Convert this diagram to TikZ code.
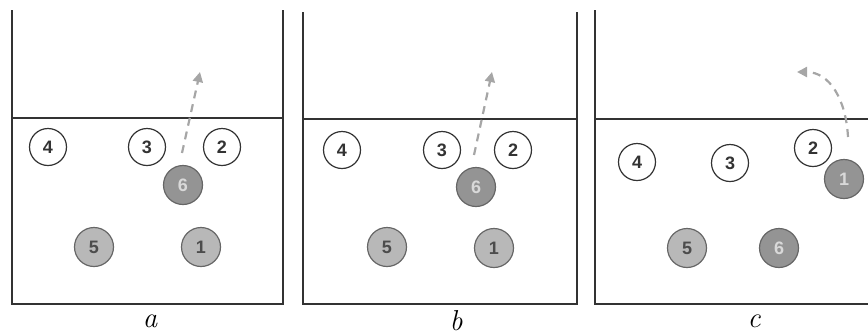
\documentclass[tikz,border=0pt]{standalone}
\usepackage{fontspec}
\setsansfont{Liberation Sans}
\usetikzlibrary{arrows.meta}
\begin{document}
\begin{tikzpicture}[x=0.5pt, y=-0.5pt,
  every node/.style={font=\sffamily\bfseries\small},
  court/.style={draw=black!80, line width=0.7pt},
  open/.style={circle, draw=black!80, line width=0.6pt, fill=white, text=black!80, minimum size=18.5pt, inner sep=0pt},
  back/.style={circle, draw=black!60, line width=0.6pt, fill=black!28, text=black!70, minimum size=19.5pt, inner sep=0pt},
  hitter/.style={back, fill=black!42, text=white!85!black},
  move/.style={draw=black!35, line width=1.1pt, dash pattern=on 4pt off 3pt, -{Triangle[length=5pt,width=5pt]}},
  caption/.style={font=\rmfamily\itshape\Large}]
  \useasboundingbox (0,0) rectangle (868,334);
  % courts
  \draw[court] (12,10) -- (12,304) -- (283,304) -- (283,10);
  \draw[court] (12,118) -- (283,118);
  \draw[court] (303,12) -- (303,304) -- (577,304) -- (577,12);
  \draw[court] (303,119) -- (577,119);
  \draw[court] (595,10) -- (595,304) -- (872,304) -- (872,10);
  \draw[court] (595,119) -- (872,119);
  % a
  \node[open] (a4) at (48,147) {4};
  \node[open] (a3) at (147,147) {3};
  \node[open] (a2) at (222,147) {2};
  \node[hitter] (a6) at (183,185) {6};
  \node[back] (a5) at (94,247) {5};
  \node[back] (a1) at (201,247) {1};
  \coordinate (a6from) at (182,153);
  \coordinate (a6to) at (200,72);
  \draw[move] (a6from) -- (a6to);
  \node[caption] (capa) at (150,321) {a};
  % b
  \node[open] (b4) at (342,150) {4};
  \node[open] (b3) at (442,150) {3};
  \node[open] (b2) at (513,150) {2};
  \node[hitter] (b6) at (476,187) {6};
  \node[back] (b5) at (387,247) {5};
  \node[back] (b1) at (494,248) {1};
  \coordinate (b6from) at (474,155);
  \coordinate (b6to) at (492,72);
  \draw[move] (b6from) -- (b6to);
  \node[caption] (capb) at (456,321) {b};
  % c
  \node[open] (c4) at (637,162) {4};
  \node[open] (c3) at (730,163) {3};
  \node[open] (c2) at (813,148) {2};
  \node[hitter] (c1) at (844,179) {1};
  \node[back] (c5) at (687,248) {5};
  \node[hitter] (c6) at (779,248) {6};
  \coordinate (c1from) at (848,137);
  \coordinate (c1to) at (797,72);
  \draw[move] (c1from) .. controls (846,100) and (830,72) .. (c1to);
  \node[caption] (capc) at (754,321) {c};
\end{tikzpicture}
\end{document}
